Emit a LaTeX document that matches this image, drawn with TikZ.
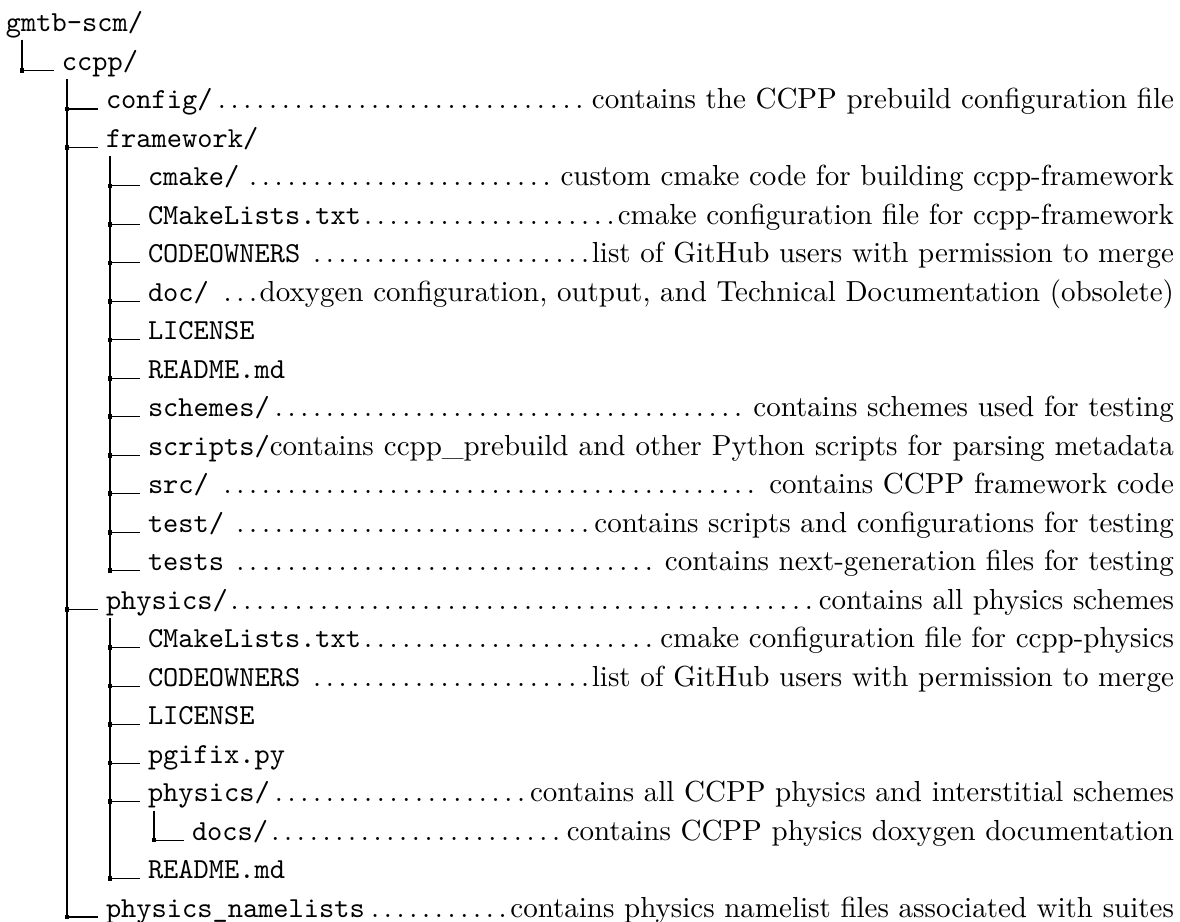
\documentclass[tikz,border=0pt]{standalone}
\newlength\pxu
\setlength\pxu{0.3448pt}
\tikzset{
  entry/.style={anchor=base west, inner sep=0pt, outer sep=0pt, font=\fontsize{10}{12}\selectfont},
  tree/.style={line width=0.4pt, draw=black},
  sq/.style={rectangle, fill=black, draw=none, inner sep=0pt, minimum size=1.6pt},
}
% name, row, x (px), leader-grid shift (pt), label, description
\newcommand\ent[6]{\node[entry] (#1) at (#3,{32+38.48*#2}) {\hbox to \dimexpr\pxu*\numexpr1174-#3\relax\relax{\hskip-#4pt\hbox to \dimexpr\pxu*\numexpr1174-#3\relax+#4pt\relax{\hskip#4pt\texttt{#5}\leaders\hbox to .44em{\hss.\hss}\hfill #6}}};}
\newcommand\entnd[5]{\node[entry] (#1) at (#3,{32+38.48*#2}) {\hbox to \dimexpr\pxu*\numexpr1174-#3\relax\relax{\texttt{#4}#5}};}
\newcommand\lone[4]{\node[entry] (#1) at (#3,{32+38.48*#2}) {\texttt{#4}};}
% square + horizontal connector: line x, row, node
\newcommand\kid[3]{\node[sq] (q#2) at (#1,{32+38.48*#2}) {};
  \draw[tree] (q#2.center) -- ([xshift=-2.76pt]#3.base west);}
\begin{document}
\begin{tikzpicture}[x=0.3448pt,y=-0.3448pt]
\useasboundingbox (0,0) rectangle (1180,922);
% entries
\lone{r0}{0}{6}{gmtb-scm/}
\lone{r1}{1}{62}{ccpp/}
\ent{r2}{2}{106}{1.8}{config/}{contains the CCPP prebuild configuration file}
\lone{r3}{3}{106}{framework/}
\ent{r4}{4}{148}{1.1}{cmake/}{custom cmake code for building ccpp-framework}
\ent{r5}{5}{148}{1.1}{CMakeLists.txt}{cmake configuration file for ccpp-framework}
\ent{r6}{6}{148}{1.1}{CODEOWNERS}{list of GitHub users with permission to merge}
\ent{r7}{7}{148}{1.1}{doc/}{doxygen configuration, output, and Technical Documentation (obsolete)}
\lone{r8}{8}{148}{LICENSE}
\lone{r9}{9}{148}{README.md}
\ent{r10}{10}{148}{1.1}{schemes/}{contains schemes used for testing}
\entnd{r11}{11}{148}{scripts/}{contains ccpp\_prebuild and other Python scripts for parsing metadata}
\ent{r12}{12}{148}{1.1}{src/}{contains CCPP framework code}
\ent{r13}{13}{148}{1.1}{test/}{contains scripts and configurations for testing}
\ent{r14}{14}{148}{1.1}{tests}{contains next-generation files for testing}
\ent{r15}{15}{106}{1.8}{physics/}{contains all physics schemes}
\ent{r16}{16}{148}{1.1}{CMakeLists.txt}{cmake configuration file for ccpp-physics}
\ent{r17}{17}{148}{1.1}{CODEOWNERS}{list of GitHub users with permission to merge}
\lone{r18}{18}{148}{LICENSE}
\lone{r19}{19}{148}{pgifix.py}
\ent{r20}{20}{148}{1.1}{physics/}{contains all CCPP physics and interstitial schemes}
\ent{r21}{21}{192}{4.2}{docs/}{contains CCPP physics doxygen documentation}
\lone{r22}{22}{148}{README.md}
\ent{r23}{23}{106}{1.8}{physics\_namelists}{contains physics namelist files associated with suites}
% children connectors
\kid{22}{1}{r1}
\kid{67}{2}{r2}
\kid{67}{3}{r3}
\kid{67}{15}{r15}
\kid{67}{23}{r23}
\foreach \i in {4,...,14} {\kid{110}{\i}{r\i}}
\foreach \i in {16,...,20,22} {\kid{110}{\i}{r\i}}
\kid{154}{21}{r21}
% vertical lines
\coordinate (t0) at (22,40);
\coordinate (t1) at (67,{32+38.48*1+9});
\coordinate (t3) at (110,{32+38.48*3+9});
\coordinate (t15) at (110,{32+38.48*15+9});
\coordinate (t20) at (154,{32+38.48*20+9});
\draw[tree] (t0) -- (q1.center);
\draw[tree] (t1) -- (q23.center);
\draw[tree] (t3) -- (q14.center);
\draw[tree] (t15) -- (q22.center);
\draw[tree] (t20) -- (q21.center);
\end{tikzpicture}
\end{document}
